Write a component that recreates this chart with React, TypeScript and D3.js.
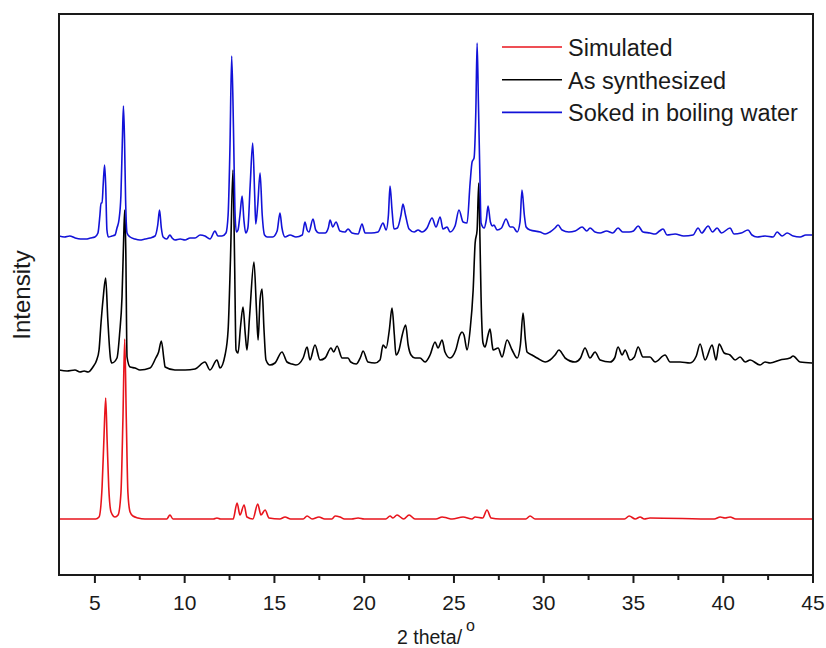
import React from "react";
import * as d3 from "d3";

// 2θ (degrees) and intensity (a.u., stacked with vertical offsets as in the figure)
const simulated: [number, number][] = [
  [3.0, 56], [5.04, 56], [5.23, 58], [5.4, 88], [5.5, 135], [5.6, 177], [5.68, 135], [5.77, 88],
  [5.9, 63], [6.12, 58], [6.29, 60], [6.45, 82], [6.56, 155], [6.66, 236], [6.75, 155], [6.84, 82],
  [6.96, 63], [7.12, 59], [7.4, 57], [7.79, 56], [9.0, 56], [9.18, 60], [9.35, 56], [11.6, 56],
  [11.8, 57], [12.0, 56], [12.7, 56], [12.92, 72], [13.08, 60], [13.31, 70], [13.47, 58], [13.8, 56],
  [14.07, 71], [14.25, 60], [14.48, 65], [14.7, 57], [15.3, 56], [15.59, 58], [15.9, 56], [16.6, 56],
  [16.82, 59], [17.1, 56], [17.48, 58], [17.8, 56], [18.2, 56], [18.38, 59], [18.65, 58], [18.9, 56],
  [19.3, 56], [19.66, 57], [20.0, 56], [21.2, 56], [21.44, 59], [21.6, 57], [21.83, 60], [22.2, 56],
  [22.5, 60], [22.83, 56], [23.5, 56], [24.0, 56], [24.34, 58], [24.62, 57], [24.9, 56], [25.51, 58],
  [26.0, 56], [26.18, 58], [26.6, 57], [26.84, 65], [27.07, 57], [27.57, 56], [29.0, 56], [29.24, 59],
  [29.52, 56], [34.5, 56], [34.76, 59], [35.1, 56], [35.37, 58], [35.6, 56], [35.92, 57], [39.5, 56],
  [39.83, 58], [40.1, 57], [40.38, 58], [40.7, 56], [42.05, 56], [45.0, 56],
];

const asSynthesized: [number, number][] = [
  [3.0, 205], [3.45, 204], [3.89, 205], [4.17, 203], [4.4, 204], [4.62, 203], [4.89, 208], [5.1, 215],
  [5.23, 225], [5.34, 252], [5.45, 275], [5.6, 297], [5.72, 255], [5.88, 215], [5.95, 212], [6.23, 217],
  [6.38, 242], [6.51, 278], [6.6, 335], [6.66, 365], [6.72, 325], [6.79, 218], [6.96, 208], [7.23, 207],
  [7.51, 205], [8.07, 207], [8.39, 217], [8.55, 223], [8.7, 234], [8.85, 215], [8.91, 208], [9.46, 205],
  [10.02, 205], [10.58, 206], [11.13, 213], [11.41, 205], [11.8, 215], [11.97, 207], [12.25, 220],
  [12.42, 245], [12.55, 315], [12.69, 405], [12.78, 315], [12.86, 225], [12.97, 222], [13.12, 250],
  [13.25, 268], [13.38, 240], [13.47, 225], [13.62, 260], [13.86, 313], [14.0, 265], [14.09, 235],
  [14.2, 275], [14.31, 286], [14.42, 245], [14.53, 215], [14.75, 210], [15.03, 212], [15.42, 223],
  [15.7, 213], [15.98, 211], [16.2, 210], [16.6, 217], [16.82, 228], [16.98, 215], [17.26, 230],
  [17.54, 215], [17.82, 217], [18.15, 227], [18.3, 223], [18.49, 229], [18.77, 217], [19.1, 217],
  [19.25, 213], [19.55, 211], [19.8, 218], [19.94, 224], [20.21, 213], [20.6, 212], [20.88, 215],
  [21.05, 230], [21.22, 227], [21.4, 245], [21.55, 267], [21.68, 240], [21.77, 220], [21.94, 225],
  [22.12, 240], [22.31, 250], [22.45, 230], [22.61, 220], [22.83, 217], [23.11, 217], [23.39, 213],
  [23.67, 220], [23.95, 233], [24.11, 227], [24.34, 235], [24.5, 223], [24.78, 217], [25.1, 225],
  [25.33, 240], [25.45, 243], [25.56, 240], [25.73, 225], [25.9, 245], [26.07, 285], [26.18, 332],
  [26.29, 345], [26.38, 392], [26.45, 335], [26.51, 278], [26.62, 232], [26.73, 228], [26.9, 240],
  [27.01, 246], [27.13, 230], [27.18, 225], [27.46, 227], [27.68, 218], [27.96, 235], [28.24, 225],
  [28.52, 217], [28.7, 230], [28.85, 262], [28.98, 235], [29.07, 223], [29.35, 220], [29.63, 217],
  [30.08, 213], [30.35, 215], [30.63, 220], [30.85, 225], [31.08, 220], [31.19, 217], [31.75, 213],
  [32.05, 217], [32.3, 227], [32.58, 217], [32.86, 223], [33.14, 215], [33.7, 213], [33.95, 217],
  [34.14, 228], [34.37, 220], [34.53, 225], [34.81, 215], [35.05, 218], [35.26, 228], [35.53, 218],
  [35.92, 218], [36.2, 213], [36.76, 220], [37.04, 213], [37.6, 213], [38.15, 212], [38.5, 219],
  [38.71, 231], [38.99, 215], [39.38, 230], [39.6, 215], [39.77, 231], [40.05, 222], [40.38, 220],
  [40.66, 215], [40.94, 218], [41.22, 213], [41.5, 215], [42.05, 210], [42.33, 213], [42.61, 212],
  [43.17, 215], [43.72, 217], [43.89, 219], [44.28, 213], [44.95, 212],
];

const boilingWater: [number, number][] = [
  [3.0, 339], [3.3, 338], [3.6, 339], [3.9, 337], [4.2, 336], [4.5, 336], [4.75, 337], [5.0, 338],
  [5.17, 342], [5.28, 360], [5.34, 372], [5.4, 372], [5.46, 390], [5.54, 410], [5.6, 390], [5.67, 345],
  [5.75, 338], [5.95, 339], [6.12, 340], [6.23, 347], [6.34, 355], [6.45, 380], [6.53, 435], [6.59, 469],
  [6.65, 435], [6.71, 375], [6.79, 342], [6.96, 338], [7.23, 336], [7.51, 335], [7.79, 336], [8.07, 337],
  [8.35, 339], [8.5, 350], [8.6, 365], [8.7, 347], [8.8, 338], [9.0, 336], [9.18, 340], [9.3, 337],
  [9.46, 335], [9.75, 336], [10.02, 335], [10.3, 337], [10.58, 337], [10.86, 340], [11.13, 339],
  [11.41, 336], [11.69, 344], [11.85, 339], [12.08, 339], [12.3, 342], [12.42, 360], [12.52, 425],
  [12.62, 519], [12.72, 445], [12.8, 365], [12.88, 343], [12.97, 345], [13.08, 360], [13.2, 379],
  [13.3, 355], [13.4, 342], [13.52, 347], [13.65, 390], [13.79, 432], [13.9, 380], [13.96, 351],
  [14.07, 370], [14.2, 402], [14.32, 360], [14.45, 340], [14.6, 338], [14.9, 338], [15.15, 344],
  [15.31, 362], [15.42, 347], [15.59, 338], [15.87, 340], [16.2, 338], [16.55, 340], [16.7, 353],
  [16.82, 345], [16.92, 343], [17.15, 356], [17.3, 345], [17.48, 342], [17.82, 342], [18.0, 347],
  [18.1, 355], [18.25, 348], [18.43, 353], [18.65, 344], [18.93, 343], [19.1, 346], [19.32, 342],
  [19.66, 341], [19.88, 351], [20.05, 342], [20.4, 342], [20.77, 343], [21.05, 352], [21.22, 345],
  [21.35, 360], [21.44, 389], [21.55, 365], [21.66, 346], [21.85, 347], [22.05, 360], [22.16, 371],
  [22.3, 360], [22.5, 346], [22.78, 343], [23.0, 345], [23.22, 343], [23.5, 347], [23.78, 357],
  [24.0, 348], [24.23, 358], [24.39, 346], [24.62, 348], [24.78, 343], [25.06, 349], [25.28, 365],
  [25.51, 353], [25.73, 352], [25.9, 392], [26.01, 413], [26.12, 417], [26.22, 465], [26.29, 532],
  [26.36, 475], [26.45, 395], [26.51, 352], [26.68, 347], [26.8, 355], [26.9, 369], [27.03, 353],
  [27.15, 349], [27.23, 350], [27.4, 345], [27.65, 347], [27.9, 356], [28.13, 348], [28.29, 348],
  [28.52, 343], [28.68, 353], [28.79, 385], [28.92, 360], [29.02, 348], [29.24, 345], [29.8, 343],
  [30.08, 341], [30.35, 343], [30.63, 347], [30.8, 350], [31.02, 345], [31.4, 343], [31.75, 344],
  [32.14, 348], [32.4, 344], [32.58, 347], [32.86, 343], [33.14, 342], [33.5, 344], [33.85, 342],
  [34.14, 347], [34.4, 343], [34.76, 343], [35.0, 344], [35.26, 349], [35.53, 343], [35.92, 342],
  [36.2, 341], [36.45, 344], [36.65, 346], [36.87, 340], [37.32, 341], [37.8, 339], [38.32, 340],
  [38.6, 347], [38.8, 342], [39.16, 349], [39.4, 343], [39.66, 347], [39.9, 342], [40.38, 347],
  [40.6, 341], [41.0, 342], [41.38, 345], [41.6, 340], [41.89, 338], [42.33, 339], [42.78, 338],
  [43.0, 343], [43.28, 339], [43.56, 342], [43.9, 339], [44.28, 338], [44.6, 340], [45.0, 340],
];

const seriesNames = ["Simulated", "As synthesized", "Soked in boiling water"];
const seriesColors = ["#e8141c", "#000000", "#1212d8"];
const xMajorTicks = [5, 10, 15, 20, 25, 30, 35, 40, 45];
const xMinorTicks = [7.5, 12.5, 17.5, 22.5, 27.5, 32.5, 37.5, 42.5];
const xDomain = [3, 45];
const yDomain = [0, 561];

const W = 826;
const H = 648;
const FONT = "'Liberation Sans', Arial, Helvetica, sans-serif";

export default function App() {
  const left = 59, right = 813, top = 14, bottom = 575;
  const x = d3.scaleLinear().domain(xDomain).range([left, right]);
  const y = d3.scaleLinear().domain(yDomain).range([bottom, top]);
  const line = d3
    .line<[number, number]>()
    .x((d) => x(d[0]))
    .y((d) => y(d[1]))
    .curve(d3.curveMonotoneX);
  const allSeries = [simulated, asSynthesized, boilingWater];

  return (
    <svg
      width={W}
      height={H}
      viewBox={`0 0 ${W} ${H}`}
      style={{ position: "absolute", left: 0, top: 0, background: "#fff" }}
    >
      <rect x={0} y={0} width={W} height={H} fill="#fff" />
      <defs>
        <clipPath id="plotclip">
          <rect x={left} y={top} width={right - left} height={bottom - top} />
        </clipPath>
      </defs>
      <g clipPath="url(#plotclip)">
        {allSeries.map((s, i) => (
          <path
            key={i}
            d={line(s) || ""}
            fill="none"
            stroke={seriesColors[i]}
            strokeWidth={1.6}
            strokeLinejoin="round"
          />
        ))}
      </g>
      {/* frame */}
      <rect
        x={left}
        y={top}
        width={right - left}
        height={bottom - top}
        fill="none"
        stroke="#1a1a1a"
        strokeWidth={2}
      />
      {/* x ticks */}
      {xMajorTicks.map((t) => (
        <g key={"M" + t}>
          <line x1={x(t)} x2={x(t)} y1={bottom} y2={bottom + 8} stroke="#1a1a1a" strokeWidth={2} />
          <text
            x={x(t)}
            y={610}
            textAnchor="middle"
            fontFamily={FONT}
            fontSize={21}
            fill="#1a1a1a"
          >
            {t}
          </text>
        </g>
      ))}
      {xMinorTicks.map((t) => (
        <line key={"m" + t} x1={x(t)} x2={x(t)} y1={bottom} y2={bottom + 5} stroke="#1a1a1a" strokeWidth={2} />
      ))}
      {/* axis titles */}
      <text x={397} y={644} fontFamily={FONT} fontSize={19.5} fill="#1a1a1a">
        2 theta/
      </text>
      <text x={466} y={631} fontFamily={FONT} fontSize={16} fill="#1a1a1a">
        o
      </text>
      <text
        transform="translate(30,295) rotate(-90)"
        textAnchor="middle"
        fontFamily={FONT}
        fontSize={24}
        fill="#1a1a1a"
      >
        Intensity
      </text>
      {/* legend */}
      {seriesNames.map((n, i) => {
        const ly = 47 + i * 32.7;
        return (
          <g key={n}>
            <line x1={502} x2={562} y1={ly} y2={ly} stroke={seriesColors[i]} strokeWidth={1.6} />
            <text x={568} y={ly + 9} fontFamily={FONT} fontSize={23.5} fill="#1a1a1a">
              {n}
            </text>
          </g>
        );
      })}
    </svg>
  );
}
